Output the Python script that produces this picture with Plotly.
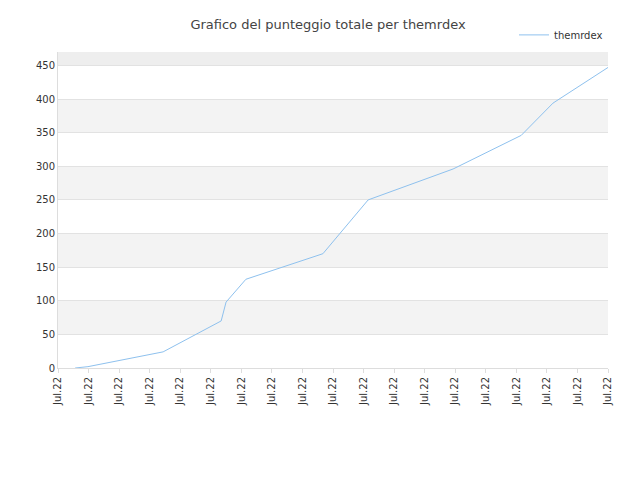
import plotly.graph_objects as go

x_vals = [0.56, 0.98, 3.44, 5.34, 5.5, 6.15, 8.67, 10.15, 12.93, 15.16, 16.2, 18.0]
y_vals = [0, 2, 24, 70, 98, 132, 170, 250, 296, 346, 394, 447]
tick_pos = list(range(19))
tick_text = ["Jul.22"] * 19
y_ticks = [0, 50, 100, 150, 200, 250, 300, 350, 400, 450]

fig = go.Figure()
fig.add_trace(go.Scatter(x=x_vals, y=y_vals, mode="lines", name="themrdex",
                         line=dict(color="#8ec1ee", width=1)))

# alternating bands
for lo, hi, col in [(50, 100, "#f3f3f3"), (150, 200, "#f3f3f3"), (250, 300, "#f3f3f3"),
                    (350, 400, "#f3f3f3"), (450, 470, "#eeeeee")]:
    fig.add_shape(type="rect", xref="paper", x0=0, x1=1, y0=lo, y1=hi,
                  fillcolor=col, line_width=0, layer="below")

fig.update_layout(
    width=640, height=480,
    title=dict(text="Grafico del punteggio totale per themrdex", x=0.5, y=0.975,
               font=dict(size=13, color="#444")),
    font=dict(family="DejaVu Sans", size=10, color="#333"),
    plot_bgcolor="white", paper_bgcolor="white",
    margin=dict(l=50, r=40, t=40, b=120),
    showlegend=True,
    legend=dict(x=1.0, y=1.1, xanchor="right", yanchor="top", font=dict(size=10),
                bgcolor="rgba(0,0,0,0)"),
    xaxis=dict(range=[0, 18], tickvals=tick_pos, ticktext=tick_text, tickangle=-90,
               showgrid=False, showline=True, linecolor="#ddd", ticks="outside",
               tickcolor="#ddd", ticklen=4, automargin=False),
    yaxis=dict(range=[0, 470], tickvals=y_ticks, showgrid=True, gridcolor="#e2e2e2",
               showline=True, linecolor="#ddd", zeroline=False, automargin=False),
)
fig.write_html("out.html")
